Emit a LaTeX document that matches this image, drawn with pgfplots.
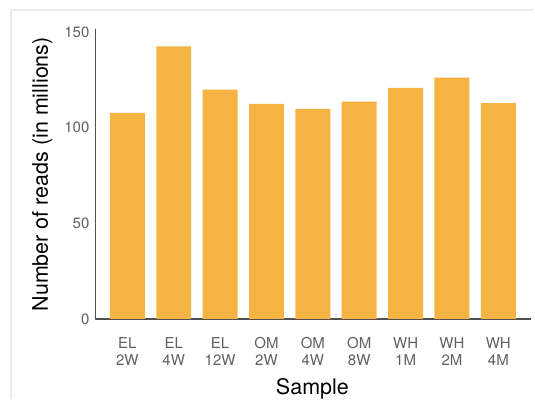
\documentclass[border=0pt]{standalone}
\usepackage{pgfplots}
\pgfplotsset{compat=1.18}
\usepackage{fontspec}
\setmainfont{TeX Gyre Heros}
\definecolor{barorange}{HTML}{F4B343}
\definecolor{axisgray}{HTML}{505050}
\definecolor{ticktext}{HTML}{606060}
\definecolor{framegray}{HTML}{EBEBEB}
\begin{document}
\begin{tikzpicture}
\path (0pt,0pt) rectangle (535pt,400pt);
% light panel frame
\draw[framegray, line width=1.5pt] (11pt,0pt) -- (11pt,390pt) -- (535pt,390pt);
\begin{axis}[
    at={(95.5pt,80.7pt)}, anchor=south west,
    scale only axis,
    width=436.5pt, height=290.3pt,
    xmin=-0.69, xmax=8.71,
    ymin=0, ymax=151.5,
    axis x line*=bottom, axis y line*=left,
    axis line style={axisgray, line width=1.4pt, -},
    major tick length=0pt,
    ytick={0,50,100,150},
    xtick=data,
    xticklabels={EL\\2W, EL\\4W, EL\\12W, OM\\2W, OM\\4W, OM\\8W, WH\\1M, WH\\2M, WH\\4M},
    xticklabel style={align=center, font=\fontsize{15}{17}\selectfont, text=ticktext, yshift=-15pt},
    yticklabel style={font=\fontsize{15}{17}\selectfont, text=ticktext, xshift=-2.5pt},
    /pgf/number format/assume math mode=true,
    xlabel={Sample},
    ylabel={Number of reads (in millions)},
    label style={font=\fontsize{21.5}{24}\selectfont},
    xlabel style={at={(axis description cs:0.498,-0.2608)}, anchor=base},
    ylabel style={at={(axis description cs:-0.1088,0.4988)}, anchor=base},
    ybar, bar width=35pt,
]
\addplot[fill=barorange, draw=none] coordinates {
    (0,107.7) (1,142.4) (2,119.8) (3,112.4) (4,109.8)
    (5,113.5) (6,120.7) (7,126.1) (8,112.8)
};
\end{axis}
\end{tikzpicture}
\end{document}
